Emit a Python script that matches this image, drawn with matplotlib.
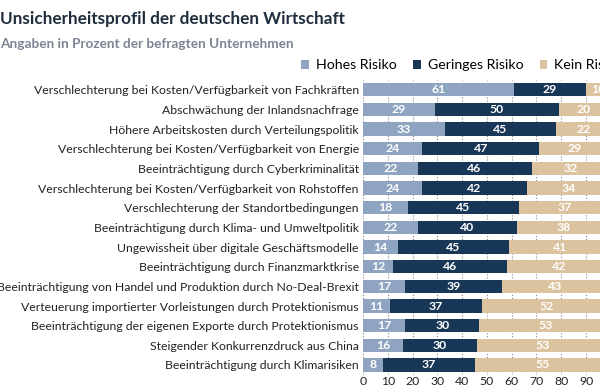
import matplotlib
matplotlib.use('Agg')
import matplotlib.pyplot as plt
import numpy as np

categories = [
    'Verschlechterung bei Kosten/Verfügbarkeit von Fachkräften',
    'Abschwächung der Inlandsnachfrage',
    'Höhere Arbeitskosten durch Verteilungspolitik',
    'Verschlechterung bei Kosten/Verfügbarkeit von Energie',
    'Beeinträchtigung durch Cyberkriminalität',
    'Verschlechterung bei Kosten/Verfügbarkeit von Rohstoffen',
    'Verschlechterung der Standortbedingungen',
    'Beeinträchtigung durch Klima- und Umweltpolitik',
    'Ungewissheit über digitale Geschäftsmodelle',
    'Beeinträchtigung durch Finanzmarktkrise',
    'Beeinträchtigung von Handel und Produktion durch No-Deal-Brexit',
    'Verteuerung importierter Vorleistungen durch Protektionismus',
    'Beeinträchtigung der eigenen Exporte durch Protektionismus',
    'Steigender Konkurrenzdruck aus China',
    'Beeinträchtigung durch Klimarisiken',
]
hohes = [61, 29, 33, 24, 22, 24, 18, 22, 14, 12, 17, 11, 17, 16, 8]
geringes = [29, 50, 45, 47, 46, 42, 45, 40, 45, 46, 39, 37, 30, 30, 37]
kein = [10, 20, 22, 29, 32, 34, 37, 38, 41, 42, 43, 52, 53, 53, 55]
series_names = ['Hohes Risiko', 'Geringes Risiko', 'Kein Risiko']
colors = ['#8fa4c0', '#183656', '#dcc3a0']

plt.rcParams['font.family'] = ['Lato', 'DejaVu Sans']

fig = plt.figure(figsize=(6, 3.89), dpi=100)
ax = fig.add_axes([0.605, 0.0365, 0.413, 0.758])

y = np.arange(len(categories))
left = np.zeros(len(categories))
for vals, name, col in zip([hohes, geringes, kein], series_names, colors):
    vals = np.array(vals)
    bars = ax.barh(y, vals, left=left, height=0.68, color=col, label=name, zorder=2)
    for b, v in zip(bars, vals):
        ax.text(b.get_x() + b.get_width() / 2, b.get_y() + b.get_height() / 2, str(v),
                ha='center', va='center', color='white', fontsize=8.8,
                fontweight='bold', zorder=3)
    left += vals

ax.set_xlim(0, 100)
ax.set_ylim(len(categories) - 0.5, -0.5)
ax.set_yticks(y)
ax.set_yticklabels(categories, fontsize=8.8, color='#222222')
ax.set_xticks(range(0, 101, 10))
ax.tick_params(axis='x', labelsize=8.8, length=0, pad=1, colors='#222222')
ax.tick_params(axis='y', length=0, pad=3)
ax.grid(axis='x', linestyle=':', color='#888888', linewidth=0.8, zorder=0)
for s in ax.spines.values():
    s.set_visible(False)

fig.text(0.0, 0.952, 'Unsicherheitsprofil der deutschen Wirtschaft', fontsize=12.3,
         fontweight='bold', color='#1f2d3d', va='center')
fig.text(0.0, 0.887, 'Angaben in Prozent der befragten Unternehmen', fontsize=9.8,
         fontweight='bold', color='#7c8594', va='center')

ax.legend(loc='lower left', bbox_to_anchor=(-0.285, 1.0), ncol=3, frameon=False,
          fontsize=10.2, handlelength=0.55, handleheight=0.55, handletextpad=0.5,
          columnspacing=1.15, borderaxespad=0.2)

fig.savefig('out.png', dpi=100)
